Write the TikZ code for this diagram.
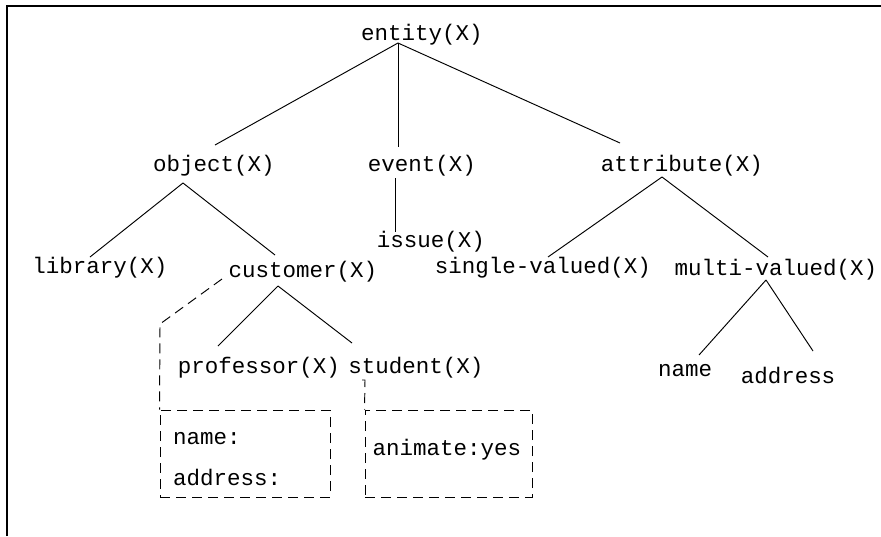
\documentclass[tikz,border=0pt]{standalone}
\usepackage{fontspec}
\usepackage{tikz}
\usetikzlibrary{calc}
\newfontfamily\treefont{Liberation Mono}

\begin{document}
\begin{tikzpicture}[x=1pt, y=-1pt, font={\treefont\fontsize{22.5}{27}\selectfont},
    every node/.style={inner sep=0pt},
    edge/.style={line width=0.95pt},
    dline/.style={line width=0.95pt, dash pattern=on 10pt off 6pt},
    dbox/.style={dline, draw, minimum width=#1, minimum height=87pt}]
  \useasboundingbox (0,0) rectangle (881,536);
  \draw[line width=1.6pt] (7,536) -- (7,6) -- (881,6);

  % tree labels
  \node (entity) at (422,35) {entity(X)};
  \node (object) at (214,166) {object(X)};
  \node (event) at (422,166) {event(X)};
  \node (attribute) at (682,166) {attribute(X)};
  \node (library) at (100,268) {library(X)};
  \node (customer) at (303,272) {customer(X)};
  \node (issue) at (431,242) {issue(X)};
  \node (single) at (543,268) {single-valued(X)};
  \node (multi) at (776,270) {multi-valued(X)};
  \node (professor) at (259,368) {professor(X)};
  \node (student) at (416,368) {student(X)};
  \node (name) at (685,371) {name};
  \node (address) at (788,375) {address};

  % dashed boxes
  \node[dbox=170pt] (profbox) at (245,453.5) {};
  \node[anchor=west] (pname) at (173,439) {name:};
  \node[anchor=west] (paddr) at (173,477) {address:};
  \node[dbox=167pt] (studbox) at (448.5,453.5) {};
  \node (animate) at (447,450) {animate:yes};

  \draw[edge] ($(entity)+(-24,8)$) -- ($(object)+(1,-21)$);
  \draw[edge] ($(entity)+(-24,8)$) -- ($(event)+(-24,-19)$);
  \draw[edge] ($(entity)+(-24,8)$) -- ($(attribute)+(-62,-23)$);
  \draw[edge] ($(object)+(-31,17)$) -- ($(library)+(-10,-11)$);
  \draw[edge] ($(object)+(-31,17)$) -- ($(customer)+(-28,-17)$);
  \draw[edge] ($(event)+(-27,12)$) -- ($(issue)+(-36,-10)$);
  \draw[edge] ($(attribute)+(-20,11)$) -- ($(single)+(5,-11)$);
  \draw[edge] ($(attribute)+(-20,11)$) -- ($(multi)+(-8,-13)$);
  \draw[edge] ($(customer)+(-25,14)$) -- ($(professor)+(-41,-22)$);
  \draw[edge] ($(customer)+(-25,14)$) -- ($(student)+(-64,-25)$);
  \draw[edge] ($(multi)+(-10,10)$) -- ($(name)+(14,-16)$);
  \draw[edge] ($(multi)+(-10,10)$) -- ($(address)+(25,-24)$);

  \draw[dline] ($(customer)+(-81,7)$) -- (160,324) -- (profbox.north west);
  \draw[dline] ($(student)+(-54,12)$) -- (365,380) -- (studbox.north west);
\end{tikzpicture}
\end{document}
